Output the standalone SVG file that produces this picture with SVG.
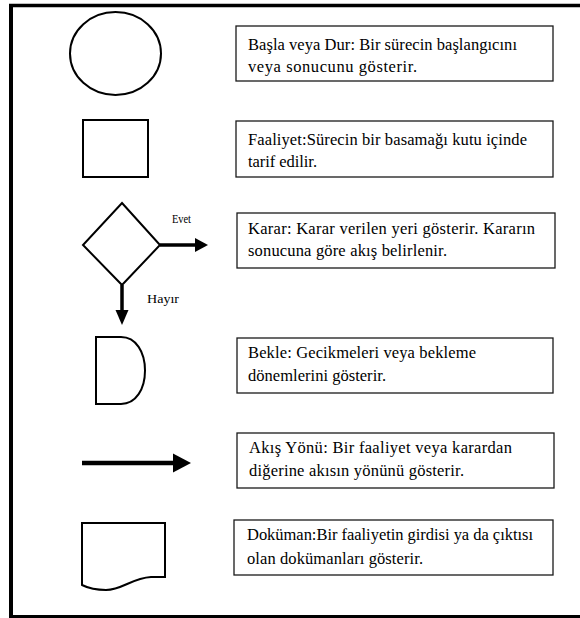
<svg xmlns="http://www.w3.org/2000/svg" width="580" height="618" viewBox="0 0 580 618">
  <style>
    .frame { stroke: #000; fill: none; }
    .sym { fill: #fff; stroke: #000; stroke-width: 2; }
    .box { fill: #fff; stroke: #1a1a1a; stroke-width: 1.3; }
    .txt { font-family: "Liberation Serif", "Times New Roman", serif; font-size: 16.5px; fill: #000; }
    .lbl { font-family: "Liberation Serif", "Times New Roman", serif; font-size: 12px; fill: #000; }
    .conn { stroke: #000; stroke-width: 3.5; fill: none; }
    .head { fill: #000; stroke: none; }
  </style>

  <rect width="580" height="618" fill="#fff"/>

  <!-- outer frame (open on the right) -->
  <g id="frame">
    <line class="frame" x1="9" y1="5.5" x2="580" y2="5.5" stroke-width="3.5"/>
    <line class="frame" x1="11" y1="4" x2="11" y2="618" stroke-width="4"/>
    <line class="frame" x1="9" y1="616.5" x2="580" y2="616.5" stroke-width="3"/>
  </g>

  <!-- Başla / Dur -->
  <g id="start-end">
    <ellipse class="sym" cx="115.5" cy="53.5" rx="45.5" ry="41.5"/>
    <rect class="box" x="236" y="26" width="317" height="55"/>
    <text class="txt" x="248" y="50" textLength="269" lengthAdjust="spacing">Başla veya Dur: Bir sürecin başlangıcını</text>
    <text class="txt" x="248" y="72" textLength="169" lengthAdjust="spacing">veya sonucunu gösterir.</text>
  </g>

  <!-- Faaliyet -->
  <g id="activity">
    <rect class="sym" x="83" y="120" width="65" height="57" stroke-width="2.5"/>
    <rect class="box" x="236" y="121" width="317" height="56"/>
    <text class="txt" x="248" y="145" textLength="279" lengthAdjust="spacing">Faaliyet:Sürecin bir basamağı kutu içinde</text>
    <text class="txt" x="248" y="167" textLength="69" lengthAdjust="spacing">tarif edilir.</text>
  </g>

  <!-- Karar -->
  <g id="decision">
    <polygon class="sym" points="122,203 160,245 122,285 83,245"/>
    <text class="lbl" x="172" y="223" textLength="19" lengthAdjust="spacingAndGlyphs">Evet</text>
    <text class="lbl" x="147" y="303" textLength="32" lengthAdjust="spacingAndGlyphs">Hayır</text>
    <rect class="box" x="237" y="213" width="318" height="55"/>
    <text class="txt" x="248" y="234" textLength="287" lengthAdjust="spacing">Karar: Karar verilen yeri gösterir. Kararın</text>
    <text class="txt" x="248" y="256" textLength="199" lengthAdjust="spacing">sonucuna göre akış belirlenir.</text>
  </g>

  <!-- Bekle -->
  <g id="delay">
    <path class="sym" d="M96,337 H121 C136,337 145,352 145,370.5 C145,389 136,404 121,404 H96 Z"/>
    <rect class="box" x="237" y="338" width="316" height="55"/>
    <text class="txt" x="248" y="358" textLength="228" lengthAdjust="spacing">Bekle: Gecikmeleri veya bekleme</text>
    <text class="txt" x="248" y="381" textLength="138" lengthAdjust="spacing">dönemlerini gösterir.</text>
  </g>

  <!-- Akış Yönü -->
  <g id="flow">
    <line x1="82" y1="463" x2="175" y2="463" stroke="#000" stroke-width="4.3"/>
    <polygon class="head" points="173,453.5 191,463 173,472.5"/>
    <rect class="box" x="237" y="433" width="317" height="55"/>
    <text class="txt" x="249" y="453" textLength="263" lengthAdjust="spacing">Akış Yönü: Bir faaliyet veya karardan</text>
    <text class="txt" x="249" y="476" textLength="215" lengthAdjust="spacing">diğerine akısın yönünü gösterir.</text>
  </g>

  <!-- Doküman -->
  <g id="document">
    <path class="sym" d="M82,523 H165 V577 H151 C132,578 122,590 106,590 C95,590 88,588 82,585 Z"/>
    <rect class="box" x="234" y="520" width="319" height="55"/>
    <text class="txt" x="247" y="540" textLength="286" lengthAdjust="spacing">Doküman:Bir faaliyetin girdisi ya da çıktısı</text>
    <text class="txt" x="247" y="564" textLength="176" lengthAdjust="spacing">olan dokümanları gösterir.</text>
  </g>

  <!-- decision connectors -->
  <g id="connectors">
    <line class="conn" x1="160" y1="245" x2="197" y2="245"/>
    <polygon class="head" points="195,238 208,245 195,252"/>
    <line class="conn" x1="122" y1="285" x2="122" y2="312"/>
    <polygon class="head" points="115.5,310 128.5,310 122,325"/>
  </g>
</svg>
